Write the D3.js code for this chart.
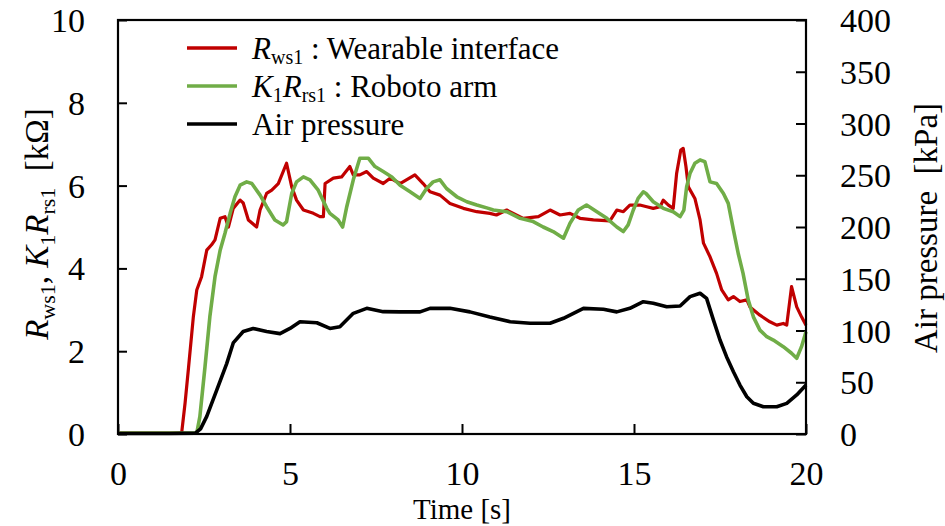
<!DOCTYPE html>
<html lang="en">
  <head>
    <meta charset="utf-8" />
    <title>Resistance and air pressure vs time</title>
    <script src="https://d3js.org/d3.v7.min.js"></script>
    <style>
      body { margin: 0; background: #fff; }
      svg text { font-family: "Liberation Serif", "Times New Roman", serif; fill: #000; }
    </style>
  </head>
  <body>
    <svg id="chart" width="945" height="526"></svg>

    <script>
      // tick values
      const timeTicks = [0, 5, 10, 15, 20];
      const resTicks = [0, 2, 4, 6, 8, 10];
      const pressTicks = [0, 50, 100, 150, 200, 250, 300, 350, 400];

      // R_ws1 : wearable interface  [time s, kOhm]
      const wearable = [
        [0, 0.02], [1.0, 0.02], [1.85, 0.02], [1.95, 0.75], [2.05, 1.6], [2.19, 2.83], [2.29, 3.48],
        [2.43, 3.8], [2.58, 4.44], [2.72, 4.57], [2.82, 4.69], [2.97, 5.21], [3.11, 5.25], [3.21, 5.0],
        [3.35, 5.45], [3.55, 5.65], [3.64, 5.58], [3.79, 5.17], [4.03, 5.0], [4.13, 5.41], [4.32, 5.81],
        [4.47, 5.89], [4.66, 6.05], [4.9, 6.54], [5.05, 5.97], [5.19, 5.65], [5.39, 5.41], [5.68, 5.33],
        [5.87, 5.25], [5.97, 5.25], [6.02, 6.05], [6.26, 6.18], [6.5, 6.21], [6.74, 6.46], [6.84, 6.26],
        [7.03, 6.26], [7.23, 6.34], [7.42, 6.18], [7.71, 6.05], [7.91, 6.18], [8.2, 6.05], [8.63, 6.26],
        [8.87, 6.05], [9.07, 5.85], [9.36, 5.77], [9.65, 5.57], [10.04, 5.45], [10.43, 5.37], [10.81, 5.33],
        [11.0, 5.29], [11.3, 5.41], [11.78, 5.21], [12.22, 5.25], [12.56, 5.41], [12.85, 5.29], [13.14, 5.33],
        [13.43, 5.21], [13.82, 5.17], [14.3, 5.15], [14.5, 5.41], [14.69, 5.37], [14.88, 5.53], [15.17, 5.53],
        [15.37, 5.49], [15.56, 5.45], [15.76, 5.49], [15.85, 5.65], [16.0, 5.53], [16.14, 5.45], [16.24, 6.3],
        [16.36, 6.86], [16.43, 6.9], [16.51, 6.46], [16.58, 5.97], [16.77, 5.69], [16.92, 5.17], [17.02, 4.61],
        [17.21, 4.28], [17.4, 3.88], [17.55, 3.48], [17.74, 3.24], [17.89, 3.32], [18.08, 3.2], [18.28, 3.24],
        [18.37, 3.07], [18.66, 2.87], [18.95, 2.71], [19.15, 2.63], [19.34, 2.67], [19.44, 2.63], [19.58, 3.56],
        [19.73, 3.07], [19.87, 2.83], [20.0, 2.63]
      ];

      // K1 R_rs1 : robot arm  [time s, kOhm]
      const robot = [
        [0, 0.02], [1.2, 0.02], [2.29, 0.02], [2.38, 0.42], [2.53, 1.63], [2.67, 2.83], [2.82, 3.8],
        [2.97, 4.44], [3.11, 4.85], [3.26, 5.33], [3.4, 5.73], [3.55, 6.01], [3.74, 6.09], [3.89, 6.05],
        [4.13, 5.77], [4.32, 5.49], [4.56, 5.17], [4.8, 5.05], [4.9, 5.13], [5.05, 5.81], [5.19, 6.09],
        [5.39, 6.21], [5.58, 6.14], [5.82, 5.89], [6.07, 5.45], [6.16, 5.33], [6.4, 5.17], [6.53, 5.0],
        [6.65, 5.49], [6.84, 6.14], [7.03, 6.66], [7.28, 6.66], [7.47, 6.46], [7.71, 6.34], [7.96, 6.21],
        [8.2, 6.01], [8.49, 5.85], [8.78, 5.69], [8.97, 5.93], [9.16, 6.09], [9.36, 6.14], [9.55, 5.93],
        [9.85, 5.73], [10.14, 5.61], [10.43, 5.53], [10.77, 5.45], [10.91, 5.41], [11.3, 5.37], [11.69, 5.21],
        [12.07, 5.13], [12.36, 5.0], [12.65, 4.89], [12.95, 4.73], [13.14, 5.09], [13.38, 5.41], [13.62, 5.53],
        [13.92, 5.37], [14.21, 5.21], [14.5, 5.0], [14.69, 4.89], [14.83, 5.05], [14.98, 5.41], [15.12, 5.69],
        [15.27, 5.85], [15.35, 5.81], [15.56, 5.61], [15.85, 5.45], [16.14, 5.37], [16.34, 5.25], [16.45, 5.41],
        [16.53, 5.97], [16.63, 6.3], [16.77, 6.54], [16.92, 6.62], [17.06, 6.58], [17.21, 6.09], [17.4, 6.05],
        [17.6, 5.81], [17.74, 5.57], [17.89, 4.93], [18.03, 4.36], [18.17, 3.88], [18.32, 3.24], [18.47, 2.83],
        [18.66, 2.51], [18.86, 2.35], [19.05, 2.27], [19.34, 2.11], [19.58, 1.95], [19.73, 1.83], [19.87, 2.11],
        [20.0, 2.47]
      ];

      // air pressure  [time s, kPa]
      const pressure = [
        [0, 0.5], [1.5, 0.5], [2.25, 0.8], [2.4, 5], [2.58, 17], [2.87, 42.5], [3.16, 68], [3.35, 88],
        [3.64, 99], [3.93, 102], [4.32, 99], [4.71, 97], [5.0, 102], [5.29, 108.5], [5.78, 107.5], [6.16, 102],
        [6.45, 103.7], [6.84, 116.6], [7.23, 121.4], [7.71, 118.2], [8.2, 118], [8.78, 118], [9.07, 121.4],
        [9.65, 121.4], [10.23, 118], [10.81, 113], [11.4, 108.5], [11.98, 107], [12.56, 107], [12.95, 111.8],
        [13.53, 121.4], [14.11, 120.5], [14.5, 118], [14.88, 121.4], [15.27, 127.8], [15.56, 126.3],
        [15.95, 123], [16.34, 123.7], [16.63, 132.7], [16.92, 136], [17.11, 131], [17.31, 110], [17.5, 90.8],
        [17.69, 74.7], [17.89, 60.2], [18.08, 47.3], [18.28, 36], [18.47, 29.7], [18.76, 26.4], [19.15, 26.4],
        [19.44, 29.6], [19.73, 37.7], [20.0, 47.3]
      ];

      const red = "#c00000", green = "#70ad47";

      const svg = d3.select("#chart");
      const plotLeft = 118, plotRight = 806, plotTop = 20, plotBottom = 434;

      const x = d3.scaleLinear().domain([0, 20]).range([plotLeft, plotRight]);
      const y = d3.scaleLinear().domain([0, 10]).range([plotBottom, plotTop]);
      const y2 = d3.scaleLinear().domain([0, 400]).range([plotBottom, plotTop]);

      // axes, ticks point inward
      const gx = svg.append("g")
        .attr("transform", `translate(0,${plotBottom})`)
        .call(d3.axisBottom(x).tickValues(timeTicks).tickSizeInner(-10).tickSizeOuter(0).tickPadding(27));
      const gy = svg.append("g")
        .attr("transform", `translate(${plotLeft},0)`)
        .call(d3.axisLeft(y).tickValues(resTicks).tickSizeInner(-9).tickSizeOuter(0).tickPadding(33));
      const gy2 = svg.append("g")
        .attr("transform", `translate(${plotRight},0)`)
        .call(d3.axisRight(y2).tickValues(pressTicks).tickSizeInner(-10).tickSizeOuter(0).tickPadding(34));

      [gx, gy, gy2].forEach(g => {
        g.select(".domain").remove();
        g.selectAll("line").attr("stroke", "#000").attr("stroke-width", 2);
        g.selectAll("text").style("font-size", "34px").attr("font-family", null);
      });
      gy.selectAll("text").attr("dy", "0.34em");
      gy2.selectAll("text").attr("dy", "0.34em");

      // curves
      const lineR = d3.line().x(d => x(d[0])).y(d => y(d[1]));
      const lineP = d3.line().x(d => x(d[0])).y(d => y2(d[1]));

      svg.append("path").datum(wearable).attr("d", lineR)
        .attr("fill", "none").attr("stroke", red).attr("stroke-width", 3.2).attr("stroke-linejoin", "round");
      svg.append("path").datum(robot).attr("d", lineR)
        .attr("fill", "none").attr("stroke", green).attr("stroke-width", 3.6).attr("stroke-linejoin", "round");
      svg.append("path").datum(pressure).attr("d", lineP)
        .attr("fill", "none").attr("stroke", "#000").attr("stroke-width", 3.6).attr("stroke-linejoin", "round");

      // frame
      svg.append("rect")
        .attr("x", plotLeft).attr("y", plotTop)
        .attr("width", plotRight - plotLeft).attr("height", plotBottom - plotTop)
        .attr("fill", "none").attr("stroke", "#000").attr("stroke-width", 2.2);

      // text with italics and subscripts
      function rich(text, parts, size, shiftRatio) {
        const sub = Math.round(size * 0.66), shift = Math.round(size * shiftRatio);
        let down = false;
        parts.forEach(p => {
          const ts = text.append("tspan").text(p.t);
          if (p.i) ts.style("font-style", "italic");
          if (p.s) {
            ts.style("font-size", sub + "px");
            if (!down) { ts.attr("dy", shift); down = true; }
          } else if (down) {
            ts.attr("dy", -shift); down = false;
          }
        });
      }

      // legend
      const legend = [
        { color: red, parts: [{ t: "R", i: true }, { t: "ws1", s: true }, { t: " : Wearable interface" }] },
        { color: green, parts: [{ t: "K", i: true }, { t: "1", s: true }, { t: "R", i: true }, { t: "rs1", s: true }, { t: " : Roboto arm" }] },
        { color: "#000", parts: [{ t: "Air pressure" }] }
      ];
      const legY = [48, 86, 124];
      legend.forEach((d, k) => {
        svg.append("line")
          .attr("x1", 187).attr("x2", 237).attr("y1", legY[k]).attr("y2", legY[k])
          .attr("stroke", d.color).attr("stroke-width", 3.6);
        const t = svg.append("text").attr("x", 252).attr("y", legY[k] + 11).style("font-size", "31px");
        rich(t, d.parts, 31, 0.17);
      });

      // axis titles
      svg.append("text")
        .attr("x", 462).attr("y", 519)
        .attr("text-anchor", "middle")
        .style("font-size", "29px")
        .text("Time [s]");

      const yl = svg.append("text")
        .attr("transform", "translate(48,224) rotate(-90)")
        .attr("text-anchor", "middle")
        .style("font-size", "33px");
      rich(yl, [{ t: "R", i: true }, { t: "ws1", s: true }, { t: ", " }, { t: "K", i: true }, { t: "1", s: true },
        { t: "R", i: true }, { t: "rs1", s: true }, { t: "\u00a0 [k\u03a9]" }], 33, 0.22);

      svg.append("text")
        .attr("transform", "translate(937,228) rotate(-90)")
        .attr("text-anchor", "middle")
        .style("font-size", "33px")
        .text("Air pressure\u00a0 [kPa]");
    </script>
  </body>
</html>
